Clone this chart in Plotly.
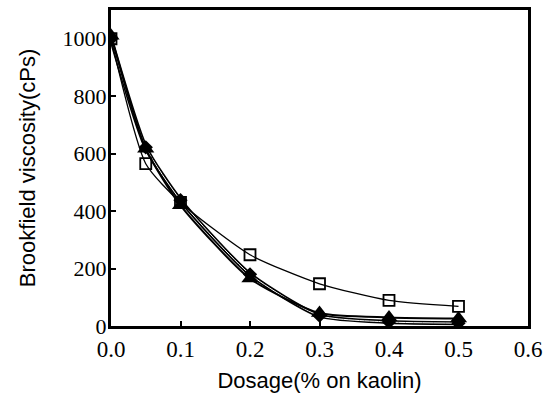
import plotly.graph_objects as go

dosage = [0.0, 0.05, 0.1, 0.2, 0.3, 0.4, 0.5]
visc_square = [1000, 565, 430, 248, 147, 89, 68]
visc_triangle = [1010, 617, 420, 165, 45, 30, 26]
visc_diamond = [1000, 622, 438, 180, 36, 14, 10]

x_ticks = [0.0, 0.1, 0.2, 0.3, 0.4, 0.5, 0.6]
x_tick_labels = ["0.0", "0.1", "0.2", "0.3", "0.4", "0.5", "0.6"]
y_ticks = [0, 200, 400, 600, 800, 1000]
y_tick_labels = ["0", "200", "400", "600", "800", "1000"]

serif = "Liberation Serif, Times New Roman, serif"
sans = "Liberation Sans, Arial, sans-serif"

fig = go.Figure()

# filled diamonds: hollow-looking double line
fig.add_trace(go.Scatter(x=dosage, y=visc_diamond, mode="lines", line=dict(color="black", width=4, shape="spline", smoothing=0.6), showlegend=False, hoverinfo="skip"))
fig.add_trace(go.Scatter(x=dosage, y=visc_diamond, mode="lines", line=dict(color="white", width=1, shape="spline", smoothing=0.6), showlegend=False, hoverinfo="skip"))
fig.add_trace(go.Scatter(x=dosage, y=visc_diamond, mode="markers", marker=dict(symbol="diamond", size=11, color="black"), name="diamond", showlegend=False))

fig.add_trace(go.Scatter(x=dosage, y=visc_triangle, mode="lines+markers",
                         line=dict(color="black", width=2, shape="spline", smoothing=0.6),
                         marker=dict(symbol="triangle-up", size=15, color="black"), name="triangle", showlegend=False))

fig.add_trace(go.Scatter(x=dosage, y=visc_square, mode="lines+markers",
                         line=dict(color="black", width=1.3, shape="spline", smoothing=0.6),
                         marker=dict(symbol="square-open", size=11, color="black", line=dict(width=1.8)), name="square", showlegend=False))

fig.update_layout(
    width=544, height=397,
    margin=dict(l=111, r=16, t=10, b=71),
    paper_bgcolor="white", plot_bgcolor="white",
    showlegend=False,
)
fig.update_xaxes(
    range=[0, 0.6], tickvals=x_ticks, ticktext=x_tick_labels, automargin=False,
    showgrid=False, zeroline=False, showline=True, mirror=True, linecolor="black", linewidth=3,
    ticks="inside", ticklen=5, tickwidth=2, tickcolor="black",
    tickfont=dict(family=serif, size=23, color="black"), ticklabelstandoff=0,
    title=dict(text="Dosage(% on kaolin)", font=dict(family=sans, size=22, color="black"), standoff=13),
)
fig.update_yaxes(
    range=[0, 1100], tickvals=y_ticks, ticktext=y_tick_labels, automargin=False,
    showgrid=False, zeroline=False, showline=True, mirror=True, linecolor="black", linewidth=3,
    ticks="inside", ticklen=5, tickwidth=2, tickcolor="black",
    tickfont=dict(family=serif, size=22, color="black"), ticklabelstandoff=-3,
    title=dict(text="Brookfield viscosity(cPs)", font=dict(family=sans, size=22, color="black"), standoff=21),
)

fig.write_html("out.html")
